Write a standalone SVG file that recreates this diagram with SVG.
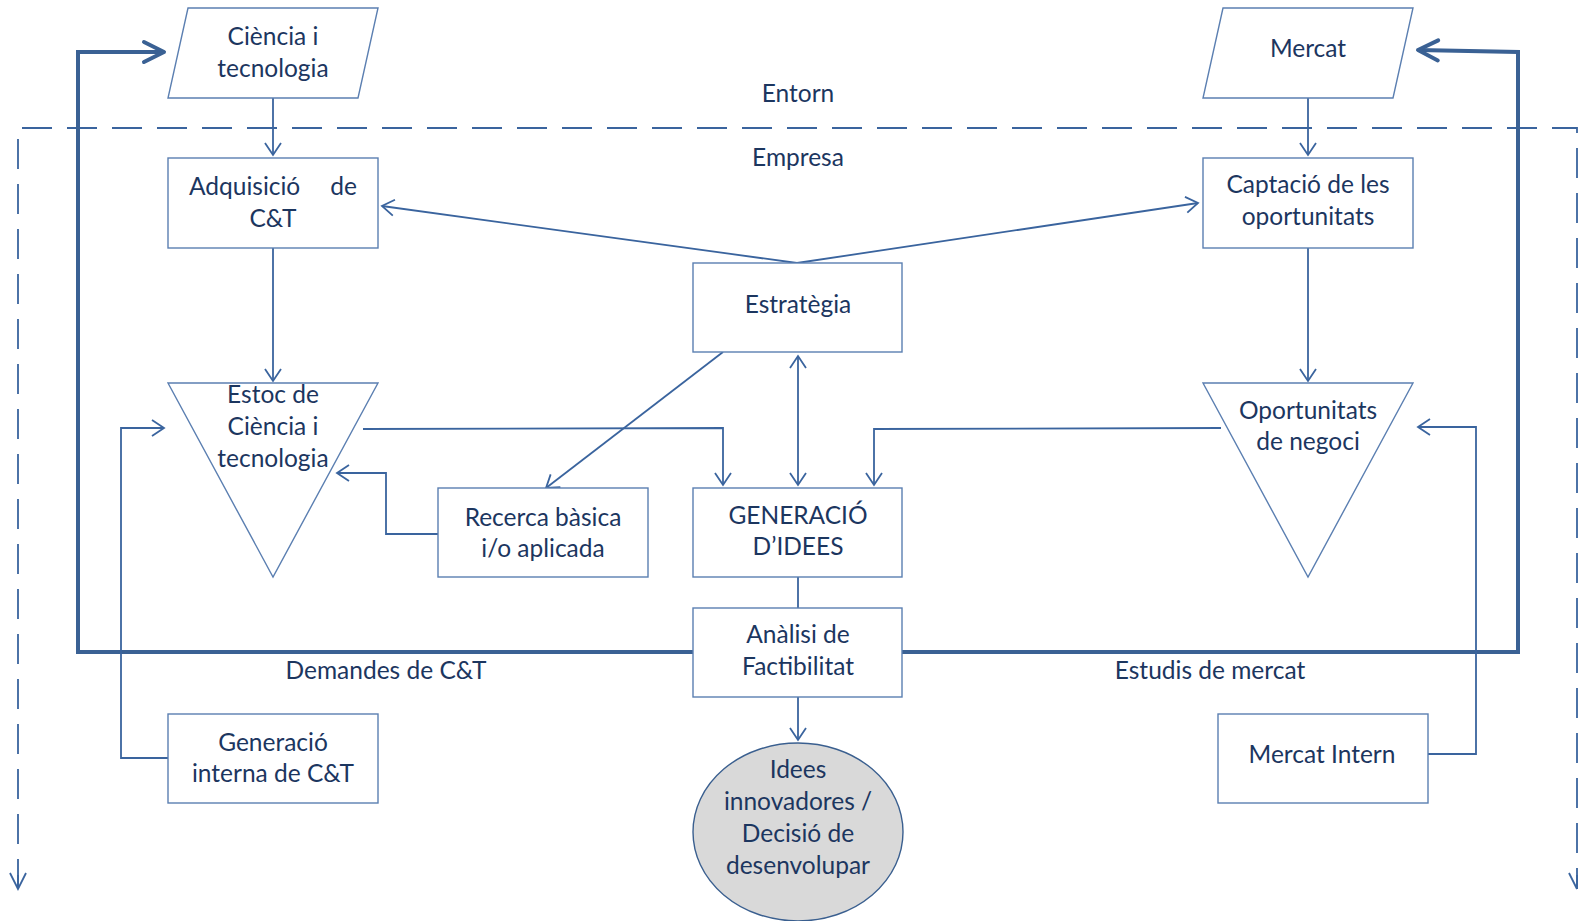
<svg xmlns="http://www.w3.org/2000/svg" width="1579" height="921" viewBox="0 0 1579 921">
<style>
.box{fill:#fff;stroke:#5b7fb1;stroke-width:1.4}
.ln{fill:none;stroke:#3a649e;stroke-width:1.8}
.thick{fill:none;stroke:#3a6194;stroke-width:4}
.dash{fill:none;stroke:#3a649e;stroke-width:1.8;stroke-dasharray:30 15}
text{font-family:Lato,"Open Sans","Liberation Sans",sans-serif;font-size:24.5px;fill:#1c365f;text-anchor:middle}
</style>
<defs>
<marker id="a" viewBox="-14 -10 16 20" refX="0" refY="0" markerWidth="16" markerHeight="20" markerUnits="userSpaceOnUse" orient="auto">
<path d="M-12,-8 L0,0 L-12,8" fill="none" stroke="#3a649e" stroke-width="1.8"/>
</marker>
<marker id="as" viewBox="-14 -10 16 20" refX="0" refY="0" markerWidth="16" markerHeight="20" markerUnits="userSpaceOnUse" orient="auto-start-reverse">
<path d="M-12,-8 L0,0 L-12,8" fill="none" stroke="#3a649e" stroke-width="1.8"/>
</marker>
<marker id="at" viewBox="-24 -14 28 28" refX="0" refY="0" markerWidth="28" markerHeight="28" markerUnits="userSpaceOnUse" orient="auto">
<path d="M-20,-10 L0,0 L-20,10" fill="none" stroke="#3a6194" stroke-width="4" stroke-linecap="round" stroke-linejoin="round"/>
</marker>
</defs>
<rect width="1579" height="921" fill="#fff"/>

<g id="connectors">
<polyline class="dash" points="18,889 18,128 1577,128 1577,889"/>
<path class="ln" d="M18,875 L18,889 M10,873 L18,889 L26,873"/>
<path class="ln" d="M1577,875 L1577,889 M1569,873 L1577,889"/>
<polyline class="thick" points="693,652 78,652 78,52 164,52" marker-end="url(#at)"/>
<polyline class="thick" points="902,652 1518,652 1518,52 1418,50" marker-end="url(#at)"/>
<line class="ln" x1="273" y1="98" x2="273" y2="155" marker-end="url(#a)"/>
<line class="ln" x1="1308" y1="98" x2="1308" y2="155" marker-end="url(#a)"/>
<line class="ln" x1="797" y1="263" x2="382" y2="206" marker-end="url(#a)"/>
<line class="ln" x1="797" y1="263" x2="1198" y2="203" marker-end="url(#a)"/>
<line class="ln" x1="273" y1="248" x2="273" y2="381" marker-end="url(#a)"/>
<line class="ln" x1="1308" y1="248" x2="1308" y2="381" marker-end="url(#a)"/>
<polyline class="ln" points="363,429 723,428 723,485" marker-end="url(#a)"/>
<polyline class="ln" points="1221,428 874,429 874,485" marker-end="url(#a)"/>
<line class="ln" x1="798" y1="356" x2="798" y2="485" marker-start="url(#as)" marker-end="url(#a)"/>
<line class="ln" x1="723" y1="352" x2="546" y2="488" marker-end="url(#a)"/>
<polyline class="ln" points="438,534 386,534 386,473 337,473" marker-end="url(#a)"/>
<line class="ln" x1="798" y1="577" x2="798" y2="608"/>
<line class="ln" x1="798" y1="697" x2="798" y2="740" marker-end="url(#a)"/>
<polyline class="ln" points="168,758 121,758 121,428 164,428" marker-end="url(#a)"/>
<polyline class="ln" points="1428,754 1476,754 1476,427 1418,427" marker-end="url(#a)"/>
</g>

<g id="labels">
<text x="798" y="102">Entorn</text>
<text x="798" y="166">Empresa</text>
<text x="386" y="679">Demandes de C&amp;T</text>
<text x="1210" y="679">Estudis de mercat</text>
</g>

<g id="ciencia">
<polygon class="box" points="188,8 378,8 358,98 168,98"/>
<text x="273" y="45">Ciència i</text>
<text x="273" y="77">tecnologia</text>
</g>
<g id="mercat">
<polygon class="box" points="1223,8 1413,8 1393,98 1203,98"/>
<text x="1308" y="57">Mercat</text>
</g>
<g id="adquisicio">
<rect class="box" x="168" y="158" width="210" height="90"/>
<text x="189" y="195" style="text-anchor:start">Adquisició</text>
<text x="357" y="195" style="text-anchor:end">de</text>
<text x="273" y="227">C&amp;T</text>
</g>
<g id="captacio">
<rect class="box" x="1203" y="158" width="210" height="90"/>
<text x="1308" y="193">Captació de les</text>
<text x="1308" y="225">oportunitats</text>
</g>
<g id="estrategia">
<rect class="box" x="693" y="263" width="209" height="89"/>
<text x="798" y="313">Estratègia</text>
</g>
<g id="estoc">
<polygon class="box" points="168,383 378,383 273,577"/>
<text x="273" y="403">Estoc de</text>
<text x="273" y="435">Ciència i</text>
<text x="273" y="467">tecnologia</text>
</g>
<g id="oportunitats">
<polygon class="box" points="1203,383 1413,383 1308,577"/>
<text x="1308" y="419">Oportunitats</text>
<text x="1308" y="450">de negoci</text>
</g>
<g id="recerca">
<rect class="box" x="438" y="488" width="210" height="89"/>
<text x="543" y="526">Recerca bàsica</text>
<text x="543" y="557">i/o aplicada</text>
</g>
<g id="generacio">
<rect class="box" x="693" y="488" width="209" height="89"/>
<text x="798" y="524">GENERACIÓ</text>
<text x="798" y="555">D’IDEES</text>
</g>
<g id="analisi">
<rect class="box" x="693" y="608" width="209" height="89"/>
<text x="798" y="643">Anàlisi de</text>
<text x="798" y="675">Factibilitat</text>
</g>
<g id="idees">
<ellipse cx="798" cy="832" rx="105" ry="89" fill="#d9d9d9" stroke="#3a5f8f" stroke-width="1.4"/>
<text x="798" y="778">Idees</text>
<text x="798" y="810">innovadores /</text>
<text x="798" y="842">Decisió de</text>
<text x="798" y="874">desenvolupar</text>
</g>
<g id="generacio-interna">
<rect class="box" x="168" y="714" width="210" height="89"/>
<text x="273" y="751">Generació</text>
<text x="273" y="782">interna de C&amp;T</text>
</g>
<g id="mercat-intern">
<rect class="box" x="1218" y="714" width="210" height="89"/>
<text x="1322" y="763">Mercat Intern</text>
</g>
</svg>
